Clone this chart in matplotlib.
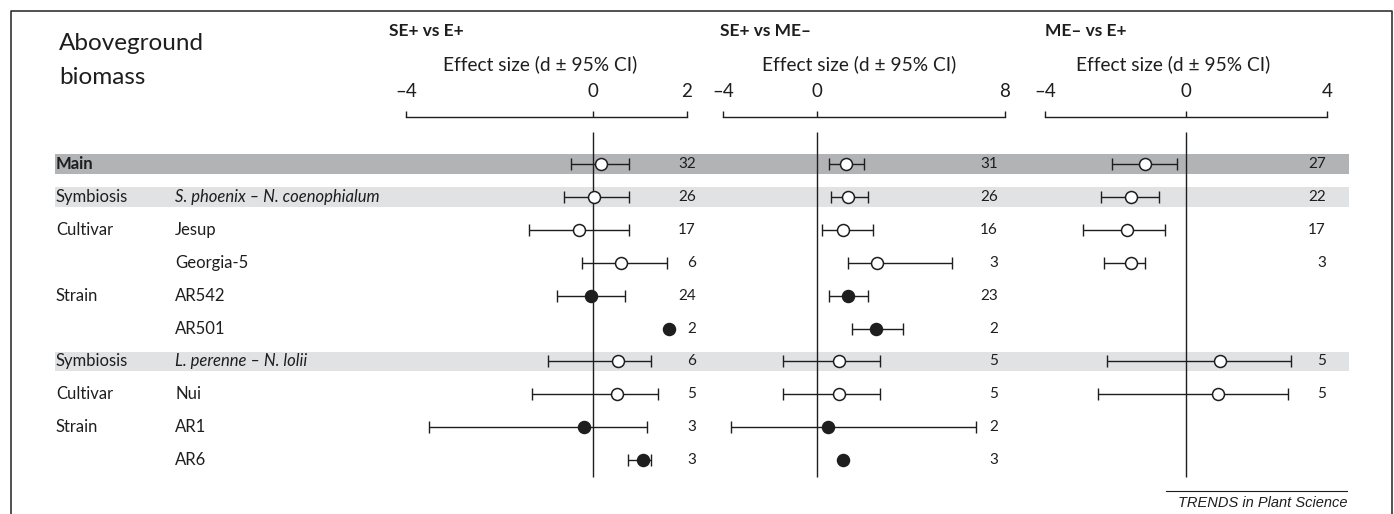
import numpy as np
import matplotlib.pyplot as plt
from matplotlib.lines import Line2D

plt.rcParams['font.family'] = ['Lato', 'DejaVu Sans']

nan = np.nan

# filas de la tabla
grupos = ['Main', 'Symbiosis', 'Cultivar', '', 'Strain', '', 'Symbiosis', 'Cultivar', 'Strain', '']
niveles = ['', 'S. phoenix – N. coenophialum', 'Jesup', 'Georgia-5', 'AR542', 'AR501',
           'L. perenne – N. lolii', 'Nui', 'AR1', 'AR6']
es_cepa = [False, False, False, False, True, True, False, False, True, True]
banda_oscura = [0]
bandas_claras = [1, 6]

titulos = ['SE+ vs E+', 'SE+ vs ME–', 'ME– vs E+']
limites = [(-4, 2), (-4, 8), (-4, 4)]
ticks = [[-4, 0, 2], [-4, 0, 8], [-4, 0, 4]]
tick_labels = [['–4', '0', '2'], ['–4', '0', '8'], ['–4', '0', '4']]

# SE+ vs E+
d_1 = [0.16, 0.02, -0.31, 0.59, -0.05, 1.61, 0.52, 0.50, -0.19, 1.07]
inf_1 = [-0.48, -0.63, -1.37, -0.24, -0.78, nan, -0.96, -1.32, -3.50, 0.75]
sup_1 = [0.77, 0.77, 0.77, 1.57, 0.67, nan, 1.23, 1.38, 1.15, 1.24]
n_1 = [32, 26, 17, 6, 24, 2, 6, 5, 3, 3]

# SE+ vs ME-
d_2 = [1.25, 1.34, 1.09, 2.55, 1.32, 2.53, 0.94, 0.94, 0.45, 1.09]
inf_2 = [0.53, 0.60, 0.21, 1.32, 0.53, 1.49, -1.45, -1.45, -3.68, nan]
sup_2 = [2.00, 2.19, 2.38, 5.74, 2.19, 3.64, 2.68, 2.68, 6.77, nan]
n_2 = [31, 26, 16, 3, 23, 2, 5, 5, 2, 3]

# ME- vs E+
d_3 = [-1.17, -1.55, -1.67, -1.55, nan, nan, 0.97, 0.91, nan, nan]
inf_3 = [-2.11, -2.40, -2.93, -2.34, nan, nan, -2.24, -2.49, nan, nan]
sup_3 = [-0.25, -0.77, -0.60, -1.17, nan, nan, 2.98, 2.89, nan, nan]
n_3 = [27, 22, 17, 3, None, None, 5, 5, None, None]

W, H = 1394, 514
Y_ARRIBA, Y_ABAJO = 117, 480
FILA0, PASO = 164, 32.9
YLIM = ((Y_ABAJO - FILA0) / PASO, (Y_ARRIBA - FILA0) / PASO)
NEGRO = '#1e1e1e'


def caja(x0, x1):
    return [x0 / W, 1 - Y_ABAJO / H, (x1 - x0) / W, (Y_ABAJO - Y_ARRIBA) / H]


def fy(y):
    return 1 - y / H


def panel(fig, x0, x1, i, d, inf, sup, n, x_n, x_tit, x_eff):
    ax = fig.add_axes(caja(x0, x1))
    ax.patch.set_alpha(0)
    ax.set_xlim(*limites[i])
    ax.set_ylim(*YLIM)
    for s in ['left', 'right', 'bottom']:
        ax.spines[s].set_visible(False)
    ax.spines['top'].set_color(NEGRO)
    ax.spines['top'].set_linewidth(1.0)
    ax.xaxis.tick_top()
    ax.set_xticks(ticks[i])
    ax.set_xticklabels(tick_labels[i], fontsize=13.5)
    ax.tick_params(axis='x', direction='out', length=4.5, width=1.0, pad=8, colors=NEGRO)
    ax.set_yticks([])

    filas = np.arange(len(d))
    d = np.array(d)
    inf = np.array(inf)
    sup = np.array(sup)
    ax.vlines(0, (132 - FILA0) / PASO, (477 - FILA0) / PASO, color=NEGRO, lw=1.0)

    con_ic = ~np.isnan(inf)
    ax.errorbar(d[con_ic], filas[con_ic], xerr=[d[con_ic] - inf[con_ic], sup[con_ic] - d[con_ic]],
                fmt='none', ecolor=NEGRO, elinewidth=1.0, capsize=4.3, capthick=1.0)
    cepa = np.array(es_cepa)
    hay = ~np.isnan(d)
    ax.plot(d[hay & ~cepa], filas[hay & ~cepa], 'o', mfc='white', mec=NEGRO, ms=8.6, mew=1.1, zorder=3)
    ax.plot(d[hay & cepa], filas[hay & cepa], 'o', mfc=NEGRO, mec=NEGRO, ms=8.6, mew=1.1, zorder=3)

    frac_n = (x_n - x0) / (x1 - x0)
    for fila, valor in zip(filas, n):
        if valor is not None:
            ax.text(frac_n, fila, str(valor), transform=ax.get_yaxis_transform(),
                    ha='right', va='center', fontsize=11, color=NEGRO)

    fig.text(x_tit / W, fy(31), titulos[i], fontsize=12.5, fontweight='bold', va='center', color=NEGRO)
    fig.text(x_eff / W, fy(64), 'Effect size (d ± 95% CI)', fontsize=13.8, ha='center', va='center',
             color=NEGRO)
    return ax


def main():
    fig = plt.figure(figsize=(W / 100, H / 100), dpi=100)

    fondo = fig.add_axes([0, 1 - Y_ABAJO / H, 1, (Y_ABAJO - Y_ARRIBA) / H])
    fondo.set_axis_off()
    fondo.set_ylim(*YLIM)
    for fila in banda_oscura:
        fondo.axhspan(fila - 0.3, fila + 0.3, xmin=55 / W, xmax=1349 / W, color='#b2b3b5', lw=0)
    for fila in bandas_claras:
        fondo.axhspan(fila - 0.3, fila + 0.3, xmin=55 / W, xmax=1349 / W, color='#e1e2e4', lw=0)

    trans = fondo.get_yaxis_transform()
    for fila, (g, nv) in enumerate(zip(grupos, niveles)):
        fondo.text(56 / W, fila, g, transform=trans, va='center', fontsize=12, color=NEGRO,
                   fontweight='bold' if g == 'Main' else 'normal')
        fondo.text(175 / W, fila, nv, transform=trans, va='center', fontsize=12, color=NEGRO,
                   fontstyle='italic' if '–' in nv else 'normal')

    panel(fig, 406, 687, 0, d_1, inf_1, sup_1, n_1, 696, 389, 540)
    panel(fig, 723, 1005, 1, d_2, inf_2, sup_2, n_2, 998, 720, 859)
    panel(fig, 1045, 1327, 2, d_3, inf_3, sup_3, n_3, 1326, 1045, 1173)

    fig.text(59 / W, fy(43), 'Aboveground', fontsize=17.5, va='center', color=NEGRO)
    fig.text(59 / W, fy(78), 'biomass', fontsize=17.5, va='center', color=NEGRO)

    # marco
    fig.add_artist(Line2D([10.5 / W, 10.5 / W, 1391.5 / W, 1391.5 / W], [0, fy(10.5), fy(10.5), 0],
                          transform=fig.transFigure, color='#333333', lw=1.2))
    fig.add_artist(Line2D([1166 / W, 1347 / W], [fy(491), fy(491)], transform=fig.transFigure,
                          color=NEGRO, lw=0.8))
    fig.text(1347 / W, fy(503), 'TRENDS in Plant Science', fontsize=10.5, fontstyle='italic',
             family='Liberation Sans', ha='right', va='center', color=NEGRO)

    fig.savefig('out.png', dpi=100)


if __name__ == '__main__':
    main()
